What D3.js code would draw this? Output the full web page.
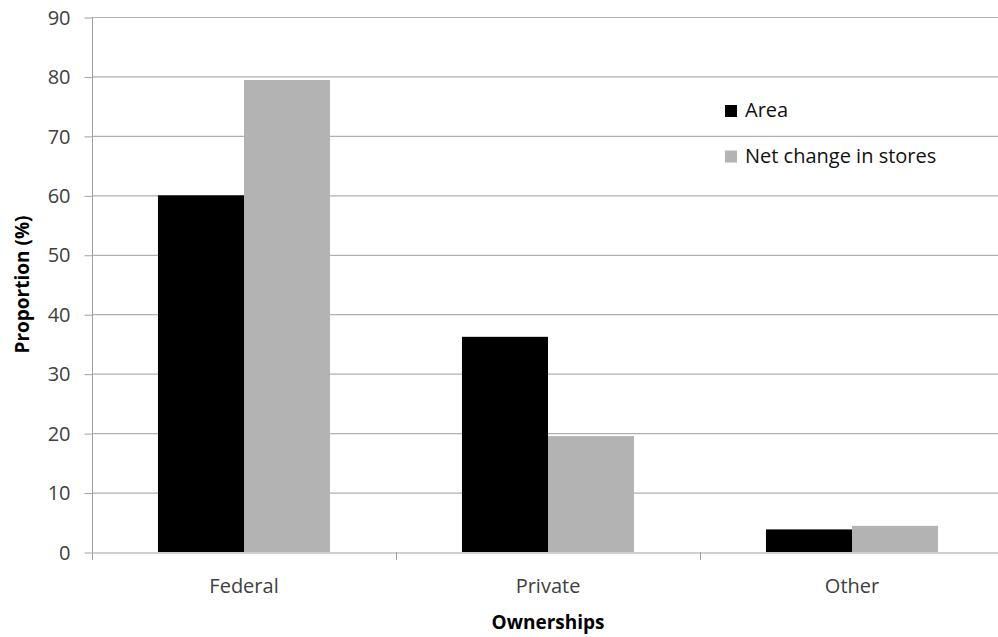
<!DOCTYPE html>
<html><head><meta charset="utf-8">
<script src="https://cdn.jsdelivr.net/npm/d3@7"></script>
<style>body{margin:0;background:#fff;} svg{display:block;}</style>
</head><body>
<svg id="chart" width="998" height="637"></svg>
<script>
const categories = ["Federal", "Private", "Other"];
const seriesNames = ["Area", "Net change in stores"];
const areaValues = [60, 36.2, 3.8];
const storeValues = [79.4, 19.5, 4.4];
const yTicks = [0, 10, 20, 30, 40, 50, 60, 70, 80, 90];
const colors = ["#000000", "#b3b3b3"];

(function () {
const svg = d3.select("#chart");
const mL = 92, mR = 1004, mT = 17, mB = 552;
const font = "'Open Sans', Lato, sans-serif";

const x = d3.scaleBand().domain(categories).range([mL, mR]).padding(0);
const bw = x.bandwidth();
const x1 = d3.scaleBand().domain(seriesNames).range([bw * 0.217, bw * 0.783]).padding(0);
const y = d3.scaleLinear().domain([0, 90]).range([mB, mT]);

// gridlines
svg.append("g").selectAll("line").data(yTicks.filter(d => d > 0)).join("line")
  .attr("x1", mL).attr("x2", mR)
  .attr("y1", d => y(d) + 0.5).attr("y2", d => y(d) + 0.5)
  .attr("stroke", "#b0b0b0").attr("stroke-width", 1.2);

// bars
const data = categories.map((c, i) => ({c, vals: [areaValues[i], storeValues[i]]}));
const g = svg.append("g");
data.forEach(d => {
  d.vals.forEach((v, j) => {
    g.append("rect")
      .attr("x", x(d.c) + x1(seriesNames[j]))
      .attr("y", y(v))
      .attr("width", x1.bandwidth())
      .attr("height", y(0) - y(v))
      .attr("fill", colors[j]);
  });
});

// y axis
const yAxis = d3.axisLeft(y).tickValues(yTicks).tickSize(8).tickPadding(14).tickFormat(d3.format("d"));
const ya = svg.append("g").attr("transform", `translate(${mL + 0.5},0)`).call(yAxis);
ya.select(".domain").attr("stroke", "#a0a0a0").attr("d", `M0,${mT}V${mB + 8}`);
ya.selectAll(".tick line").attr("stroke", "#a0a0a0").attr("transform", "translate(0,0.5)");
ya.selectAll("text").attr("font-family", font).attr("font-size", 20).attr("fill", "#404040").attr("dy", "0.36em");

// x axis
const xAxis = d3.axisBottom(x).tickSize(0);
const xa = svg.append("g").attr("transform", `translate(0,${mB + 0.5})`).call(xAxis);
xa.select(".domain").attr("stroke", "#a0a0a0").attr("stroke-width", 1.2);
xa.selectAll("text").attr("font-family", font).attr("font-size", 20).attr("fill", "#404040")
  .attr("y", 40).attr("dy", 0);
svg.append("g").selectAll("line").data(categories.slice(1)).join("line")
  .attr("x1", d => Math.round(x(d)) + 0.5).attr("x2", d => Math.round(x(d)) + 0.5)
  .attr("y1", mB).attr("y2", mB + 8).attr("stroke", "#a0a0a0");

// axis titles
svg.append("text").attr("transform", `translate(29,${(mT + mB) / 2}) rotate(-90)`)
  .attr("text-anchor", "middle").attr("font-family", font).attr("font-weight", "bold")
  .attr("font-size", 19).attr("fill", "#000").text("Proportion (%)");
svg.append("text").attr("x", x("Private") + bw / 2).attr("y", 629)
  .attr("text-anchor", "middle").attr("font-family", font).attr("font-weight", "bold")
  .attr("font-size", 19).attr("fill", "#000").text("Ownerships");

// legend
const leg = svg.append("g").attr("transform", "translate(725,105)");
seriesNames.forEach((s, i) => {
  const row = leg.append("g").attr("transform", `translate(0,${i * 45.5})`);
  row.append("rect").attr("x", 0).attr("y", 0).attr("width", 12).attr("height", 12).attr("fill", colors[i]);
  row.append("text").attr("x", 20).attr("y", 12)
    .attr("font-family", font).attr("font-size", 20).attr("fill", "#111").text(s);
});
})();
</script>
</body></html>
